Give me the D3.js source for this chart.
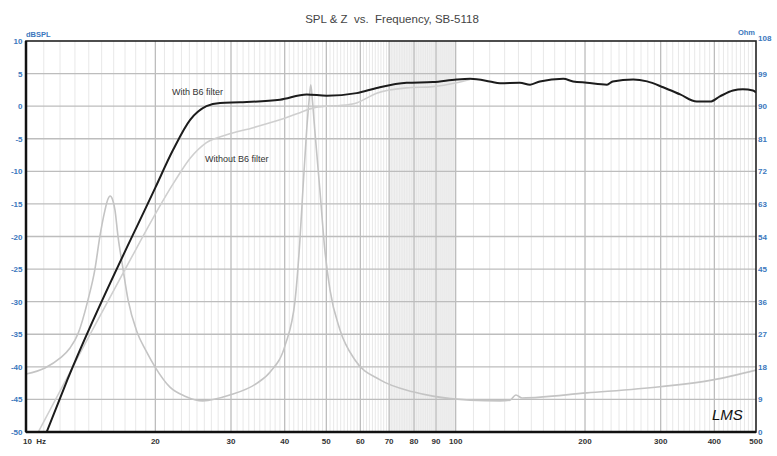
<!DOCTYPE html>
<html><head><meta charset="utf-8">
<script src="https://cdn.jsdelivr.net/npm/d3@7"></script>
<style>
body{margin:0;background:#fff;}
svg text{font-family:"Liberation Sans",Arial,sans-serif;white-space:pre;}
</style></head>
<body><svg id="c" width="777" height="456"></svg>
<script>
// ---- data ----
const xTicks = [10,20,30,40,50,60,70,80,90,100,200,300,400,500];
const xTickLabels = ["10  Hz","20","30","40","50","60","70","80","90","100","200","300","400","500"];
const dbTicks = [10,5,0,-5,-10,-15,-20,-25,-30,-35,-40,-45,-50];
const ohmTicks = [108,99,90,81,72,63,54,45,36,27,18,9,0];

// SPL with B6 filter [Hz, dB]
const splWithFreq = [11.17,12.5,20,22,24.1,26.3,28.3,31.5,39,45,50.1,58.8,65.5,76.9,88.5,100.5,108,120,126.8,141,149,157,178,187.6,202,225,232,259,279,304,333,364,391,412,442,466,492,500];
const splWithDb   = [-50,-41.9,-12.5,-6.7,-2.1,0,0.5,0.6,1.0,1.8,1.6,2.0,2.8,3.6,3.7,4.1,4.2,3.8,3.5,3.6,3.3,3.8,4.2,3.8,3.6,3.3,3.8,4.1,3.8,2.9,1.8,0.7,0.7,1.5,2.4,2.6,2.4,2.1];

// SPL without B6 filter [Hz, dB]
const splWithoutFreq = [10.68,14.1,16.7,22.2,24.1,26.3,29.3,33.8,39,43.4,46.5,50.1,53.8,58.8,65.5,76.9,88.5,100.5,108];
const splWithoutDb   = [-50,-35.0,-26.0,-11.5,-8.0,-5.6,-4.4,-3.3,-2.1,-1.0,-0.3,0,0.1,0.5,2.0,2.8,3.0,3.6,4.1];

// Impedance [Hz, Ohm]
const zFreq = [10,11.07,12.0,12.66,13.21,13.94,14.47,14.86,15.27,15.5,15.7,15.9,16.11,16.37,16.82,17.28,18.13,19.03,19.96,21.63,23.44,25.8,29.8,34.5,37.0,40.1,42.3,43.4,44.1,45.0,45.6,46.0,46.4,47.0,48.3,49.6,51.0,53.8,58.3,66.7,79.5,88.5,108,126.8,133.8,138.1,142.7,202,298.8,397,500];
const zOhm  = [16.0,17.7,20.4,23.2,27.1,36.5,45.0,54.1,61.3,64.2,65.2,64.2,61.3,54.1,45.0,36.5,27.6,22.4,18.0,12.4,9.9,8.6,10.2,13.5,16.6,24.0,36.5,53.0,66.9,83.4,91.7,95.9,91.7,83.4,66.9,50.3,39.2,28.2,19.9,14.4,11.1,9.9,8.8,8.6,8.8,10.2,9.4,10.8,12.5,14.4,17.1];

// ---- drawing ----
const svg = d3.select("#c");
const L=26,R=756,T=41,B=432;
const x = d3.scaleLog().domain([10,500]).range([L,R]);
const y = d3.scaleLinear().domain([-50,10]).range([B,T]);
const yz = d3.scaleLinear().domain([0,108]).range([B,T]);

svg.append("rect").attr("width",777).attr("height",456).attr("fill","#fff");

// shaded band
svg.append("rect").attr("x",x(70)).attr("y",T).attr("width",x(100)-x(70)).attr("height",B-T).attr("fill","#f0f0f0");

// minor grid
const minor=[];
for(let f=11;f<100;f++) if(f%10) minor.push(f);
for(let f=110;f<500;f+=10) if(f%100) minor.push(f);
svg.append("g").selectAll("line").data(minor).join("line")
 .attr("x1",d=>x(d)).attr("x2",d=>x(d)).attr("y1",T).attr("y2",B)
 .attr("stroke","#e8e8e8").attr("stroke-width",1);

// major grid
svg.append("g").selectAll("line").data(xTicks.slice(1,-1)).join("line")
 .attr("x1",d=>x(d)).attr("x2",d=>x(d)).attr("y1",T).attr("y2",B)
 .attr("stroke","#bdbdbd").attr("stroke-width",1.3);
svg.append("g").selectAll("line").data(dbTicks.slice(1,-1)).join("line")
 .attr("x1",L).attr("x2",R).attr("y1",d=>y(d)).attr("y2",d=>y(d))
 .attr("stroke","#bdbdbd").attr("stroke-width",1.3);

const line = (fs,vs,sc)=>d3.line().curve(d3.curveMonotoneX)(fs.map((f,i)=>[x(f),sc(vs[i])]));

svg.append("clipPath").attr("id","pc").append("rect").attr("x",L).attr("y",T).attr("width",R-L).attr("height",B-T);
const g = svg.append("g").attr("clip-path","url(#pc)");
g.append("path").attr("d",line(zFreq,zOhm,yz)).attr("fill","none").attr("stroke","#c4c4c4").attr("stroke-width",1.6);
g.append("path").attr("d",line(splWithoutFreq,splWithoutDb,y)).attr("fill","none").attr("stroke","#cfcfcf").attr("stroke-width",1.6);
g.append("path").attr("d",line(splWithFreq,splWithDb,y)).attr("fill","none").attr("stroke","#1c1c1c").attr("stroke-width",2);

// frame
svg.append("rect").attr("x",L).attr("y",T).attr("width",R-L).attr("height",B-T).attr("fill","none").attr("stroke","#222").attr("stroke-width",1.6);
svg.append("line").attr("x1",L).attr("x2",L).attr("y1",T).attr("y2",B).attr("stroke","#111").attr("stroke-width",2.5);
svg.append("line").attr("x1",L).attr("x2",R).attr("y1",B).attr("y2",B).attr("stroke","#111").attr("stroke-width",2.5);

// axis labels
const blue="#3b78bd";
svg.append("g").selectAll("text").data(dbTicks).join("text")
 .attr("x",22.5).attr("y",d=>y(d)+3).attr("text-anchor","end")
 .attr("font-size",8).attr("font-weight","bold").attr("fill",blue).text(d=>d);
svg.append("g").selectAll("text").data(ohmTicks).join("text")
 .attr("x",758).attr("y",(d,i)=>yz(d)+(i===0?0:3)).attr("text-anchor","start")
 .attr("font-size",8).attr("font-weight","bold").attr("fill",blue).text(d=>d);
svg.append("text").attr("x",26).attr("y",36.5).attr("font-size",7.5).attr("font-weight","bold").attr("fill",blue).text("dBSPL");
svg.append("text").attr("x",755).attr("y",35).attr("text-anchor","end").attr("font-size",7.5).attr("font-weight","bold").attr("fill",blue).text("Ohm");

svg.append("g").selectAll("text").data(xTicks).join("text")
 .attr("x",(d,i)=>i===0?23:x(d)).attr("y",444)
 .attr("text-anchor",(d,i)=>i===0?"start":"middle")
 .attr("font-size",8).attr("font-weight","bold").attr("fill","#333").text((d,i)=>xTickLabels[i]);

// title & annotations
svg.append("text").attr("x",392).attr("y",23).attr("text-anchor","middle").attr("font-size",11.5).attr("fill","#444").text("SPL & Z  vs.  Frequency, SB-5118");
svg.append("text").attr("x",172).attr("y",95).attr("font-size",9).attr("fill","#333").text("With B6 filter");
svg.append("text").attr("x",205).attr("y",162).attr("font-size",9).attr("fill","#333").text("Without B6 filter");
svg.append("text").attr("x",712).attr("y",420).attr("font-size",15).attr("font-style","italic").attr("font-family","DejaVu Serif").attr("fill","#111").text("LMS");
</script></body></html>
